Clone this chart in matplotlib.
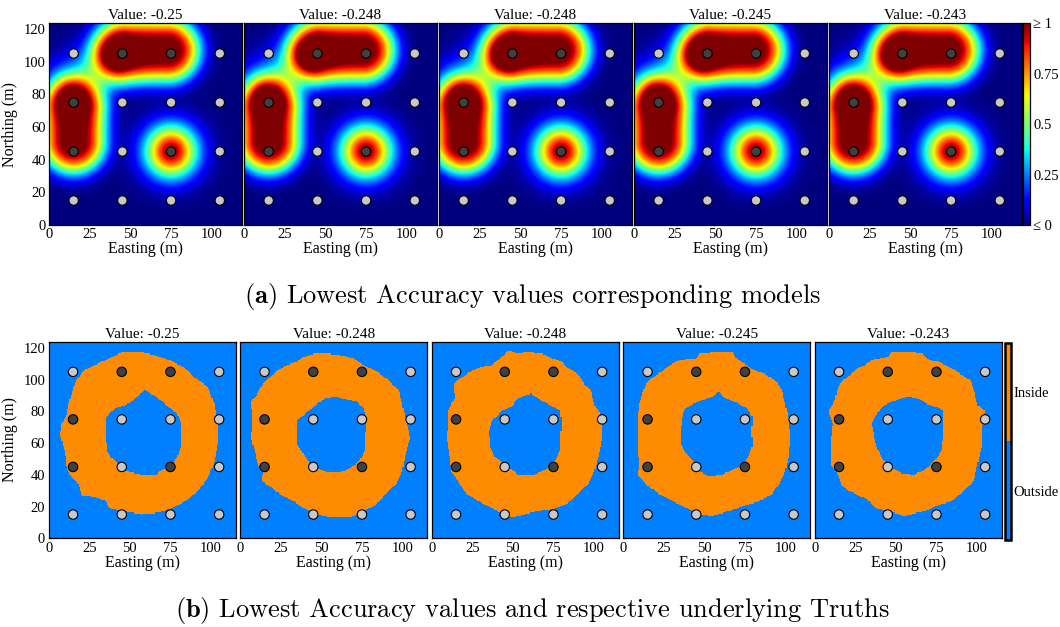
import numpy as np
import matplotlib
matplotlib.use("Agg")
import matplotlib.pyplot as plt
from matplotlib.path import Path
from matplotlib.colors import ListedColormap, Normalize
from matplotlib.cm import ScalarMappable

plt.rcParams["font.family"] = ["Liberation Serif", "DejaVu Serif"]
plt.rcParams["mathtext.fontset"] = "cm"

# ---------------------------------------------------------------- data
accuracy_values = [-0.25, -0.248, -0.248, -0.245, -0.243]

sensor_x = [15, 45, 75, 105]
sensor_y = [15, 45, 75, 105]
# 1 = sensor reports "inside", rows follow sensor_y, columns sensor_x
sensor_inside = [
    [0, 0, 0, 0],
    [1, 0, 1, 0],
    [1, 0, 0, 0],
    [0, 1, 1, 0],
]

# model bodies: segment end points (m), peak amplitude, spread (m), fall-off exponent
body_start = [(47, 107), (15, 51), (75, 45), (14, 86)]
body_end = [(73, 107), (15, 70), (75, 45), (34, 100)]
body_amp = [1.06, 1.06, 1.0, 0.33]
body_scale = [19.4, 19.4, 16.0, 15.5]
body_power = [3.0, 3.0, 2.0, 2.0]

# underlying truths: outer and inner ring boundaries (easting, northing)
truth_outer = [
    [(45, 117), (57, 117), (66, 115), (74, 112), (84, 107), (90, 101), (98, 95), (102, 84),
     (104, 72), (104, 59), (102, 48), (98, 38), (92, 30), (84, 23), (76, 19), (68, 16),
     (57, 15), (45, 17), (37, 19), (35, 23), (28, 26), (20, 27), (18, 34), (14, 38),
     (11, 44), (10, 53), (7, 65), (8, 72), (11, 78), (12, 84), (15, 95), (18, 101),
     (22, 106), (28, 109), (35, 112), (41, 115)],
    [(45, 116), (55, 116), (63, 115), (70, 113), (76, 109), (84, 105), (92, 99), (98, 93),
     (100, 84), (102, 76), (105, 63), (102, 53), (100, 42), (96, 34), (90, 28), (84, 21),
     (76, 17), (68, 13), (57, 13), (47, 15), (39, 19), (33, 23), (24, 28), (18, 33),
     (13, 36), (14, 42), (11, 46), (9, 55), (7, 63), (8, 72), (7, 86), (11, 91),
     (14, 97), (18, 101), (24, 106), (29, 109), (35, 111), (39, 114)],
    [(47, 118), (53, 116), (59, 117), (68, 116), (74, 113), (80, 111), (84, 107), (90, 103),
     (94, 97), (98, 93), (100, 84), (105, 76), (105, 63), (103, 53), (100, 42), (96, 34),
     (90, 28), (84, 22), (74, 18), (66, 17), (57, 15), (49, 13), (43, 15), (37, 19),
     (29, 23), (20, 29), (16, 36), (12, 42), (11, 51), (9, 63), (10, 72), (10, 80),
     (14, 88), (13, 97), (18, 101), (24, 105), (31, 108), (37, 109), (43, 114)],
    [(35, 112), (45, 113), (47, 116), (59, 117), (68, 117), (70, 113), (76, 109), (80, 106),
     (88, 103), (94, 99), (98, 93), (100, 84), (102, 76), (103, 63), (102, 51), (100, 42),
     (96, 34), (92, 28), (84, 23), (76, 21), (66, 17), (55, 14), (47, 15), (39, 19),
     (31, 23), (22, 28), (14, 34), (9, 40), (10, 46), (9, 55), (9, 65), (9, 76),
     (10, 84), (12, 91), (14, 97), (18, 101), (24, 105), (29, 109)],
    [(35, 112), (45, 114), (47, 117), (59, 117), (66, 116), (70, 112), (76, 111), (84, 107),
     (90, 103), (96, 99), (98, 93), (100, 84), (105, 80), (103, 70), (103, 59), (100, 46),
     (98, 36), (92, 30), (84, 23), (76, 21), (68, 17), (55, 14), (45, 17), (37, 19),
     (31, 25), (20, 30), (16, 34), (14, 40), (10, 46), (10, 55), (10, 63), (11, 72),
     (8, 80), (12, 86), (14, 95), (18, 100), (22, 103), (26, 107), (31, 109)],
]
truth_inner = [
    [(51, 86), (59, 93), (66, 89), (72, 84), (79, 78), (81, 72), (81, 57), (79, 51),
     (76, 46), (70, 43), (66, 40), (57, 40), (47, 42), (41, 48), (36, 54), (35, 63),
     (35, 76), (41, 82), (48, 84)],
    [(53, 88), (59, 89), (66, 87), (72, 86), (76, 82), (78, 74), (77, 63), (77, 55),
     (74, 49), (68, 44), (61, 41), (55, 41), (49, 43), (43, 47), (39, 53), (35, 59),
     (35, 74), (41, 79), (47, 84)],
    [(53, 88), (61, 91), (68, 86), (74, 83), (79, 80), (80, 72), (79, 63), (79, 55),
     (76, 49), (70, 43), (63, 40), (53, 40), (49, 43), (45, 46), (39, 51), (36, 57),
     (35, 67), (37, 74), (43, 80), (49, 83)],
    [(47, 86), (55, 89), (59, 92), (63, 88), (70, 85), (76, 82), (80, 76), (79, 67),
     (80, 59), (78, 53), (74, 46), (68, 43), (61, 40), (53, 39), (47, 42), (43, 49),
     (39, 53), (36, 59), (36, 70), (37, 78), (39, 82)],
    [(43, 84), (51, 87), (57, 89), (63, 88), (70, 84), (76, 82), (79, 80), (79, 72),
     (79, 63), (78, 55), (74, 49), (68, 43), (61, 40), (53, 41), (47, 44), (42, 49),
     (39, 55), (37, 61), (36, 67), (35, 72), (37, 76), (41, 82)],
]

truth_labels = ["Outside", "Inside"]
model_ticks = [0, 0.25, 0.5, 0.75, 1]
model_ticklabels = ["\u2264 0", "0.25", "0.5", "0.75", "\u2265 1"]
x_ticks = [0, 25, 50, 75, 100]
y_ticks = [0, 20, 40, 60, 80, 100, 120]

# ---------------------------------------------------------------- styling
W, H = 1060, 627
BLUE = "#0080ff"
ORANGE = "#ff8c00"
LIGHT = "#c8c8c8"
DARK = "#404040"
TICK_SIZE = 10.5


def rect(left, top, width, height):
    return [left / W, 1 - (top + height) / H, width / W, height / H]


def segment_distance(X, Y, p0, p1):
    p0 = np.asarray(p0, float)
    p1 = np.asarray(p1, float)
    d = p1 - p0
    L2 = float(d @ d)
    if L2 == 0:
        t = np.zeros_like(X)
    else:
        t = np.clip(((X - p0[0]) * d[0] + (Y - p0[1]) * d[1]) / L2, 0, 1)
    return np.hypot(X - (p0[0] + t * d[0]), Y - (p0[1] + t * d[1]))


def model_field(X, Y):
    f = np.zeros_like(X)
    for s, e, a, sc, p in zip(body_start, body_end, body_amp, body_scale, body_power):
        dist = segment_distance(X, Y, s, e)
        f += a * np.exp(-(dist / sc) ** p)
    return f


def draw_sensors(ax):
    gx, gy = np.meshgrid(sensor_x, sensor_y)
    flags = np.asarray(sensor_inside).ravel()
    colors = [DARK if v else LIGHT for v in flags]
    ax.scatter(gx.ravel(), gy.ravel(), s=46, c=colors, edgecolors="black",
               linewidths=0.8, zorder=5, clip_on=False)


def style_axes(ax, first, xmax, ymax, width_px):
    ax.set_xlim(0, xmax)
    ax.set_ylim(0, ymax)
    ax.set_xticks(x_ticks)
    ax.set_yticks(y_ticks)
    ax.tick_params(length=0, pad=2.5, labelsize=TICK_SIZE)
    if first:
        ax.set_ylabel("Northing (m)", fontsize=11.5)
        ax.yaxis.set_label_coords(-31.0 / width_px, 0.5)
    else:
        ax.set_yticklabels([])
    ax.set_xlabel("Easting (m)", fontsize=11.5, labelpad=0)
    for sp in ax.spines.values():
        sp.set_linewidth(0.9)


fig = plt.figure(figsize=(W / 100, H / 100), dpi=100)

# ---------------------------------------------------------------- (a) models
TX, TY = 118.5, 123.5
gx = np.linspace(0, TX, 400)
gy = np.linspace(0, TY, 400)
X, Y = np.meshgrid(gx, gy)
field = model_field(X, Y)

for i, v in enumerate(accuracy_values):
    ax = fig.add_axes(rect(49.3 + i * 195.0, 23.3, 192.4, 201.7))
    ax.imshow(field, cmap="jet", vmin=0, vmax=1, origin="lower",
              extent=[0, TX, 0, TY], aspect="auto", interpolation="bilinear")
    draw_sensors(ax)
    style_axes(ax, i == 0, TX, TY, 192.4)
    ax.set_title(f"Value: {v}", fontsize=11, pad=3)

cax = fig.add_axes(rect(1023.3, 23.3, 7.0, 202.0))
cb = fig.colorbar(ScalarMappable(norm=Normalize(0, 1), cmap="jet"), cax=cax,
                  ticks=model_ticks)
cb.ax.set_yticklabels(model_ticklabels)
cb.ax.tick_params(length=0, pad=2, labelsize=TICK_SIZE)
cb.outline.set_linewidth(0.9)

fig.text(0.502, 1 - 297 / H, r"$\mathbf{(a)}$ Lowest Accuracy values corresponding models",
         family="cmr10", fontsize=19, ha="center", va="center")

# ---------------------------------------------------------------- (b) truths
BX, BY = 115.2, 124.0
cell = 0.7
cx = np.arange(0, BX, cell) + cell / 2
cy = np.arange(0, BY, cell) + cell / 2
CX, CY = np.meshgrid(cx, cy)
pts = np.column_stack([CX.ravel(), CY.ravel()])
truth_cmap = ListedColormap([BLUE, ORANGE])

for i, v in enumerate(accuracy_values):
    outer = Path(truth_outer[i] + [truth_outer[i][0]])
    inner = Path(truth_inner[i] + [truth_inner[i][0]])
    inside = outer.contains_points(pts) & ~inner.contains_points(pts)
    mask = inside.reshape(CX.shape).astype(float)

    ax = fig.add_axes(rect(48.7 + i * 191.5, 341.7, 187.0, 196.6))
    ax.imshow(mask, cmap=truth_cmap, vmin=0, vmax=1, origin="lower",
              extent=[0, len(cx) * cell, 0, len(cy) * cell], aspect="auto",
              interpolation="nearest")
    draw_sensors(ax)
    style_axes(ax, i == 0, BX, BY, 187.0)
    ax.set_title(f"Value: {v}", fontsize=11, pad=3)

cax2 = fig.add_axes(rect(1005.0, 342.7, 6.0, 197.3))
cb2 = fig.colorbar(ScalarMappable(norm=Normalize(0, 1), cmap=truth_cmap), cax=cax2,
                   ticks=[0.25, 0.75])
cb2.ax.set_yticklabels(truth_labels)
cb2.ax.tick_params(length=0, pad=2, labelsize=TICK_SIZE)
cb2.outline.set_linewidth(1.8)

fig.text(0.502, 1 - 611 / H,
         r"$\mathbf{(b)}$ Lowest Accuracy values and respective underlying Truths",
         family="cmr10", fontsize=19, ha="center", va="center")

fig.savefig("out.png", dpi=100)
